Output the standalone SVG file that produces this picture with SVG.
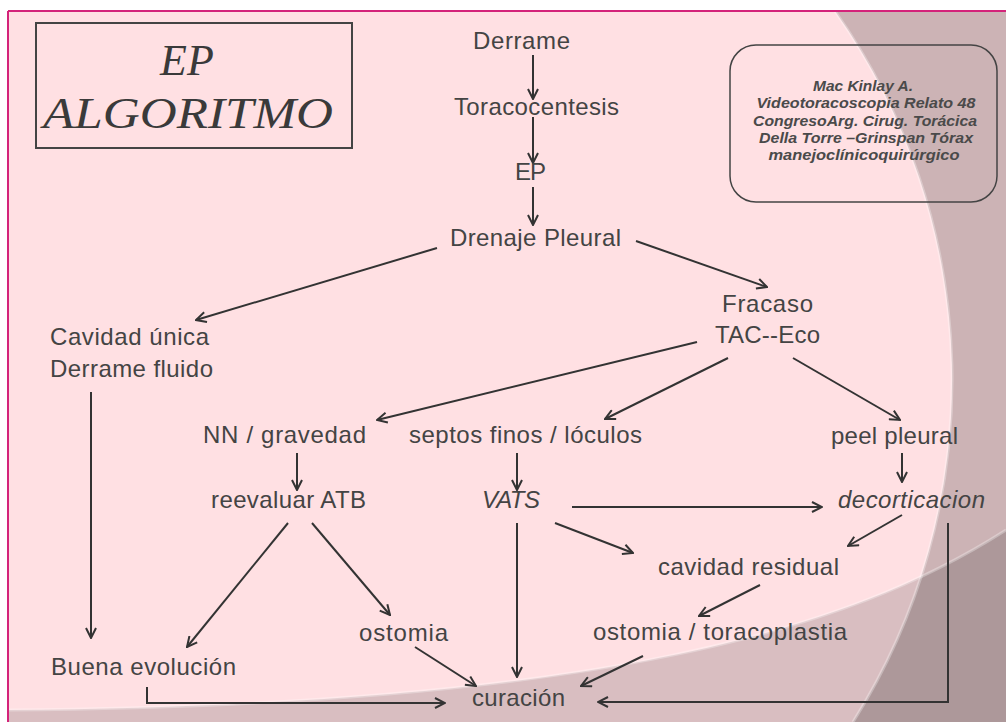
<svg xmlns="http://www.w3.org/2000/svg" width="1006" height="722" viewBox="0 0 1006 722">
<style>
.t{font-family:"Liberation Sans",Arial,sans-serif;font-size:24px;fill:#444}
.i{font-style:italic}
.c{font-family:"Liberation Sans",Arial,sans-serif;font-size:14.5px;font-style:italic;font-weight:bold;fill:#4a4a4a;text-anchor:middle}
.ti{font-family:"Liberation Serif","Times New Roman",serif;font-style:italic;font-size:44px;fill:#3a3a3a}
.ln{fill:none;stroke:#333;stroke-width:2;marker-end:url(#ah)}
</style>
<defs>
<marker id="ah" viewBox="0 0 12 12" refX="11" refY="6" markerWidth="12" markerHeight="12" orient="auto" markerUnits="userSpaceOnUse">
<path d="M1,1 L11,6 L1,11" fill="none" stroke="#333" stroke-width="2"/>
</marker>
</defs>
<g id="background">
<rect x="0" y="0" width="1006" height="722" fill="#ffffff"/>
<rect x="8" y="11" width="998" height="711" fill="#FFE0E3"/>
<path d="M835 11 A640 640 0 0 1 853 722 L1006 722 L1006 11 Z" fill="#000" fill-opacity="0.2"/>
<path d="M8 710 C600 705 850 630 1006 530 L1006 722 L8 722 Z" fill="#000" fill-opacity="0.15"/>
<path d="M835 11 A640 640 0 0 1 853 722" fill="none" stroke="#fff" stroke-opacity="0.3" stroke-width="3"/>
<path d="M8 710 C600 705 850 630 1006 530" fill="none" stroke="#fff" stroke-opacity="0.3" stroke-width="3"/>
<path d="M8 11 L1006 11 M8 11 L8 722" fill="none" stroke="#D4237A" stroke-width="2"/>
</g>
<g id="title">
<rect x="36" y="23" width="316" height="125" fill="none" stroke="#444" stroke-width="2"/>
<text class="ti" x="187" y="75" text-anchor="middle">EP</text>
<text class="ti" x="43" y="128" textLength="290" lengthAdjust="spacingAndGlyphs">ALGORITMO</text>
</g>
<g id="reference">
<rect x="730" y="45" width="267" height="157" rx="26" ry="26" fill="none" stroke="#444" stroke-width="1.5"/>
<text class="c" x="863" y="91" textLength="100" lengthAdjust="spacingAndGlyphs">Mac Kinlay A.</text>
<text class="c" x="866" y="108" textLength="219" lengthAdjust="spacingAndGlyphs">Videotoracoscopia Relato 48</text>
<text class="c" x="865" y="126" textLength="224" lengthAdjust="spacingAndGlyphs">CongresoArg. Cirug. Torácica</text>
<text class="c" x="866" y="143" textLength="214" lengthAdjust="spacingAndGlyphs">Della Torre –Grinspan Tórax</text>
<text class="c" x="864" y="160" textLength="191" lengthAdjust="spacingAndGlyphs">manejoclínicoquirúrgico</text>
</g>
<g id="connectors">
<path class="ln" d="M533 55 L533 99"/>
<path class="ln" d="M533 117 L533 163"/>
<path class="ln" d="M533 187 L533 225"/>
<path class="ln" d="M437 248 L196 320"/>
<path class="ln" d="M636 241 L767 287"/>
<path class="ln" d="M697 342 L377 420"/>
<path class="ln" d="M728 358 L605 419"/>
<path class="ln" d="M793 358 L900 420"/>
<path class="ln" d="M297 453 L297 490"/>
<path class="ln" d="M517 453 L517 490"/>
<path class="ln" d="M902 453 L902 482"/>
<path class="ln" d="M572 507 L822 507"/>
<path class="ln" d="M555 523 L633 553"/>
<path class="ln" d="M902 515 L848 546"/>
<path class="ln" d="M948 523 L948 702 L598 702"/>
<path class="ln" d="M760 585 L699 616"/>
<path class="ln" d="M643 656 L581 686"/>
<path class="ln" d="M517 523 L517 677"/>
<path class="ln" d="M288 523 L187 647"/>
<path class="ln" d="M312 523 L390 615"/>
<path class="ln" d="M415 647 L476 686"/>
<path class="ln" d="M91 392 L91 638"/>
<path class="ln" d="M147 687 L147 703 L445 703"/>
</g>
<g id="n-derrame"><text class="t" x="473" y="49" textLength="97">Derrame</text></g>
<g id="n-toracocentesis"><text class="t" x="454" y="115" textLength="165">Toracocentesis</text></g>
<g id="n-ep"><text class="t" x="515" y="180" textLength="31">EP</text></g>
<g id="n-drenaje"><text class="t" x="450" y="246" textLength="171">Drenaje Pleural</text></g>
<g id="n-cavidad"><text class="t" x="50" y="345" textLength="159">Cavidad única</text><text class="t" x="50" y="377" textLength="163">Derrame fluido</text></g>
<g id="n-fracaso"><text class="t" x="722" y="312" textLength="91">Fracaso</text><text class="t" x="715" y="343" textLength="105">TAC--Eco</text></g>
<g id="n-nn"><text class="t" x="203" y="443" textLength="163">NN / gravedad</text></g>
<g id="n-septos"><text class="t" x="409" y="443" textLength="233">septos finos / lóculos</text></g>
<g id="n-peel"><text class="t" x="831" y="444" textLength="127">peel pleural</text></g>
<g id="n-reevaluar"><text class="t" x="211" y="508" textLength="155">reevaluar ATB</text></g>
<g id="n-vats"><text class="t i" x="482" y="508" textLength="58">VATS</text></g>
<g id="n-decorticacion"><text class="t i" x="838" y="508" textLength="147">decorticacion</text></g>
<g id="n-residual"><text class="t" x="658" y="575" textLength="181">cavidad residual</text></g>
<g id="n-toracoplastia"><text class="t" x="593" y="640" textLength="254">ostomia / toracoplastia</text></g>
<g id="n-ostomia"><text class="t" x="359" y="641" textLength="89">ostomia</text></g>
<g id="n-buena"><text class="t" x="51" y="675" textLength="185">Buena evolución</text></g>
<g id="n-curacion"><text class="t" x="472" y="706" textLength="93">curación</text></g>
</svg>
